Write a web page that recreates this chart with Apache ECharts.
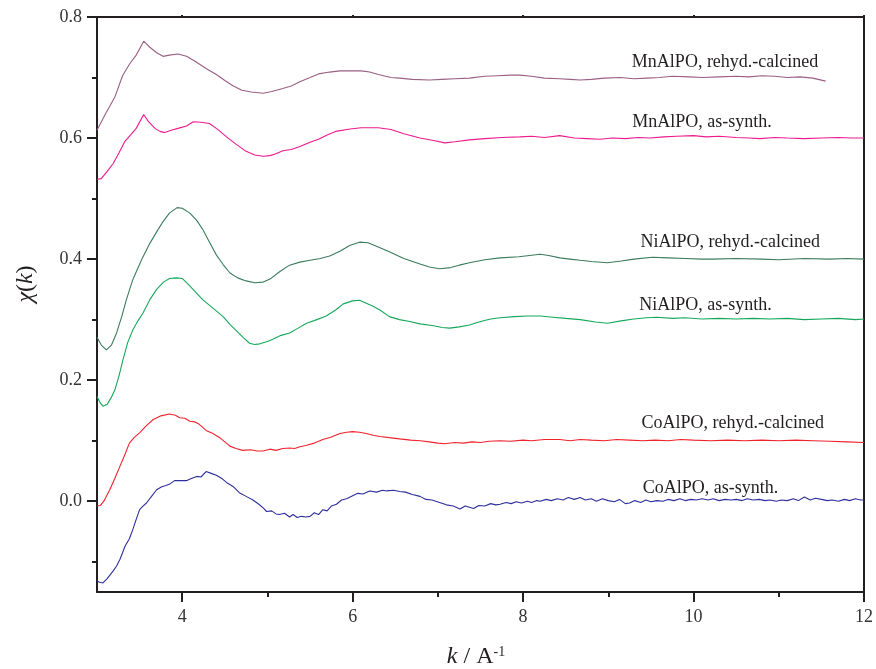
<!DOCTYPE html>
<html>
<head>
<meta charset="utf-8">
<script src="https://cdn.jsdelivr.net/npm/echarts@6/dist/echarts.min.js"></script>
<style>
html,body{margin:0;padding:0;background:#fff;}
#chart{width:876px;height:669px;}
</style>
</head>
<body>
<div id="chart"></div>
<script>
// ---- Data (k, chi(k)) ----
const xTickLabels = [4, 6, 8, 10, 12];
const xMinorTicks = [5, 7, 9, 11];
const yTickLabels = [0, 0.2, 0.4, 0.6, 0.8];
const yMinorTicks = [-0.1, 0.1, 0.3, 0.5, 0.7];

const seriesNames = [
  'MnAlPO, rehyd.-calcined',
  'MnAlPO, as-synth.',
  'NiAlPO, rehyd.-calcined',
  'NiAlPO, as-synth.',
  'CoAlPO, rehyd.-calcined',
  'CoAlPO, as-synth.'
];

// label anchor positions in data units [k, chi]
const labelAnchors = [
  [10.37, 0.725],
  [10.10, 0.626],
  [10.43, 0.428],
  [10.14, 0.324],
  [10.46, 0.128],
  [10.20, 0.022]
];

const mnRehyd = [[3.0,0.613],[3.1,0.64],[3.21,0.668],[3.3,0.703],[3.38,0.722],[3.46,0.737],[3.548,0.760],[3.62,0.75],[3.7,0.741],[3.775,0.735],[3.85,0.737],[3.95,0.739],[4.05,0.735],[4.15,0.727],[4.28,0.715],[4.4,0.705],[4.5,0.695],[4.6,0.686],[4.7,0.679],[4.81,0.676],[4.95,0.674],[5.05,0.677],[5.18,0.682],[5.28,0.686],[5.38,0.693],[5.5,0.700],[5.6,0.706],[5.73,0.709],[5.85,0.711],[6.0,0.711],[6.1,0.711],[6.2,0.709],[6.3,0.705],[6.45,0.700],[6.55,0.699],[6.7,0.697],[6.9,0.696],[7.05,0.697],[7.2,0.698],[7.37,0.699],[7.55,0.702],[7.7,0.703],[7.85,0.704],[7.96,0.704],[8.1,0.702],[8.25,0.699],[8.43,0.698],[8.55,0.697],[8.67,0.696],[8.8,0.697],[8.95,0.699],[9.14,0.700],[9.3,0.698],[9.45,0.699],[9.6,0.700],[9.75,0.702],[9.95,0.701],[10.1,0.700],[10.3,0.701],[10.5,0.702],[10.65,0.701],[10.8,0.703],[10.95,0.702],[11.1,0.700],[11.25,0.701],[11.4,0.699],[11.55,0.694]];

const mnAs = [[3.0,0.532],[3.05,0.533],[3.12,0.545],[3.19,0.558],[3.26,0.576],[3.325,0.594],[3.4,0.606],[3.46,0.616],[3.548,0.639],[3.6,0.628],[3.68,0.616],[3.74,0.611],[3.795,0.609],[3.87,0.613],[3.95,0.616],[4.05,0.62],[4.13,0.627],[4.22,0.626],[4.32,0.624],[4.42,0.614],[4.52,0.602],[4.63,0.59],[4.75,0.578],[4.85,0.572],[4.95,0.570],[5.03,0.571],[5.1,0.574],[5.18,0.579],[5.28,0.581],[5.38,0.586],[5.5,0.593],[5.6,0.598],[5.7,0.605],[5.8,0.611],[5.97,0.615],[6.1,0.617],[6.3,0.617],[6.45,0.614],[6.6,0.607],[6.79,0.600],[6.95,0.596],[7.08,0.592],[7.2,0.594],[7.37,0.597],[7.55,0.599],[7.75,0.601],[7.96,0.602],[8.1,0.603],[8.25,0.601],[8.43,0.604],[8.6,0.600],[8.75,0.599],[8.9,0.598],[9.05,0.600],[9.2,0.599],[9.35,0.601],[9.49,0.600],[9.65,0.602],[9.8,0.603],[10.0,0.604],[10.15,0.602],[10.3,0.603],[10.5,0.601],[10.65,0.600],[10.78,0.599],[10.95,0.601],[11.1,0.600],[11.3,0.599],[11.5,0.600],[11.7,0.601],[11.85,0.600],[12.0,0.600]];

const niRehyd = [[3.0,0.271],[3.05,0.258],[3.11,0.250],[3.17,0.258],[3.23,0.278],[3.29,0.305],[3.345,0.333],[3.42,0.366],[3.52,0.398],[3.62,0.426],[3.7,0.445],[3.775,0.462],[3.85,0.476],[3.94,0.485],[4.0,0.484],[4.09,0.476],[4.17,0.464],[4.245,0.448],[4.32,0.428],[4.40,0.407],[4.48,0.391],[4.56,0.377],[4.65,0.369],[4.75,0.364],[4.85,0.361],[4.95,0.362],[5.03,0.367],[5.15,0.380],[5.26,0.390],[5.38,0.395],[5.5,0.398],[5.62,0.401],[5.73,0.405],[5.85,0.413],[5.97,0.423],[6.08,0.428],[6.18,0.427],[6.3,0.420],[6.43,0.412],[6.6,0.401],[6.79,0.392],[6.9,0.387],[7.02,0.384],[7.15,0.386],[7.25,0.390],[7.37,0.394],[7.55,0.399],[7.73,0.402],[7.95,0.404],[8.2,0.408],[8.3,0.406],[8.43,0.402],[8.55,0.400],[8.67,0.398],[8.8,0.396],[8.99,0.394],[9.15,0.397],[9.3,0.400],[9.52,0.403],[9.7,0.402],[9.9,0.401],[10.1,0.400],[10.23,0.400],[10.5,0.401],[10.8,0.400],[11.0,0.399],[11.3,0.401],[11.6,0.400],[11.8,0.401],[12.0,0.400]];

const niAs = [[3.0,0.173],[3.04,0.162],[3.07,0.157],[3.12,0.160],[3.17,0.172],[3.21,0.184],[3.26,0.208],[3.305,0.234],[3.36,0.262],[3.42,0.283],[3.48,0.298],[3.54,0.311],[3.62,0.333],[3.7,0.35],[3.78,0.362],[3.85,0.368],[3.93,0.369],[4.0,0.368],[4.08,0.357],[4.16,0.345],[4.24,0.333],[4.36,0.319],[4.48,0.305],[4.56,0.292],[4.64,0.281],[4.72,0.27],[4.79,0.261],[4.85,0.259],[4.91,0.260],[5.0,0.264],[5.07,0.268],[5.16,0.274],[5.26,0.278],[5.36,0.286],[5.46,0.294],[5.58,0.300],[5.69,0.306],[5.8,0.316],[5.89,0.326],[6.0,0.331],[6.08,0.332],[6.16,0.327],[6.24,0.322],[6.32,0.316],[6.43,0.305],[6.55,0.300],[6.67,0.297],[6.79,0.293],[6.95,0.290],[7.05,0.287],[7.14,0.286],[7.25,0.288],[7.37,0.291],[7.5,0.297],[7.62,0.301],[7.73,0.303],[7.9,0.305],[8.05,0.306],[8.2,0.306],[8.35,0.304],[8.5,0.302],[8.67,0.300],[8.85,0.296],[8.99,0.294],[9.15,0.298],[9.3,0.301],[9.45,0.303],[9.57,0.304],[9.75,0.302],[9.9,0.303],[10.1,0.301],[10.3,0.302],[10.5,0.301],[10.7,0.302],[10.9,0.301],[11.1,0.302],[11.3,0.300],[11.5,0.301],[11.7,0.302],[11.9,0.300],[12.0,0.301]];

const coRehyd = [[3.0,-0.008],[3.04,-0.007],[3.08,0.0],[3.15,0.019],[3.21,0.038],[3.27,0.058],[3.33,0.078],[3.38,0.096],[3.44,0.106],[3.5,0.113],[3.58,0.125],[3.66,0.135],[3.75,0.141],[3.85,0.144],[3.92,0.142],[3.97,0.138],[4.03,0.137],[4.09,0.132],[4.15,0.131],[4.2,0.127],[4.28,0.117],[4.36,0.112],[4.44,0.105],[4.5,0.098],[4.56,0.091],[4.63,0.087],[4.71,0.084],[4.8,0.085],[4.88,0.083],[4.95,0.083],[5.03,0.086],[5.1,0.084],[5.18,0.087],[5.26,0.088],[5.32,0.087],[5.38,0.090],[5.45,0.092],[5.55,0.096],[5.65,0.102],[5.75,0.106],[5.85,0.112],[5.93,0.114],[6.0,0.115],[6.08,0.114],[6.16,0.112],[6.24,0.109],[6.32,0.107],[6.43,0.105],[6.55,0.103],[6.68,0.101],[6.79,0.100],[6.9,0.098],[7.0,0.096],[7.08,0.095],[7.2,0.097],[7.3,0.096],[7.4,0.098],[7.5,0.097],[7.6,0.099],[7.73,0.100],[7.85,0.099],[8.0,0.101],[8.1,0.100],[8.25,0.102],[8.43,0.102],[8.55,0.100],[8.67,0.102],[8.8,0.101],[8.95,0.100],[9.1,0.102],[9.25,0.101],[9.4,0.100],[9.55,0.101],[9.7,0.100],[9.85,0.102],[10.0,0.101],[10.2,0.100],[10.4,0.101],[10.6,0.100],[10.8,0.101],[11.0,0.100],[11.2,0.101],[11.4,0.100],[11.6,0.099],[11.8,0.098],[12.0,0.097]];

const coAs = [[3.0,-0.132],[3.03,-0.134],[3.07,-0.135],[3.12,-0.128],[3.19,-0.115],[3.23,-0.107],[3.27,-0.096],[3.33,-0.074],[3.38,-0.062],[3.42,-0.047],[3.46,-0.03],[3.5,-0.014],[3.54,-0.008],[3.58,-0.003],[3.64,0.008],[3.70,0.019],[3.76,0.024],[3.81,0.026],[3.86,0.029],[3.91,0.034],[3.98,0.034],[4.05,0.034],[4.1,0.037],[4.17,0.041],[4.22,0.040],[4.28,0.049],[4.34,0.046],[4.40,0.043],[4.47,0.037],[4.53,0.030],[4.6,0.024],[4.67,0.014],[4.75,0.008],[4.83,0.002],[4.9,-0.005],[4.95,-0.011],[4.99,-0.017],[5.05,-0.016],[5.1,-0.021],[5.14,-0.022],[5.2,-0.020],[5.26,-0.026],[5.3,-0.022],[5.35,-0.027],[5.4,-0.025],[5.45,-0.026],[5.5,-0.025],[5.55,-0.019],[5.6,-0.022],[5.65,-0.014],[5.7,-0.016],[5.75,-0.008],[5.81,-0.005],[5.87,0.002],[5.93,0.004],[6.0,0.009],[6.06,0.013],[6.12,0.012],[6.2,0.017],[6.28,0.015],[6.35,0.018],[6.4,0.017],[6.48,0.018],[6.55,0.016],[6.62,0.015],[6.7,0.011],[6.79,0.008],[6.86,0.003],[6.93,0.002],[7.02,-0.002],[7.1,-0.006],[7.18,-0.008],[7.26,-0.013],[7.32,-0.008],[7.37,-0.010],[7.42,-0.012],[7.48,-0.007],[7.55,-0.008],[7.62,-0.004],[7.68,-0.006],[7.73,-0.005],[7.8,-0.002],[7.86,-0.004],[7.92,-0.001],[7.98,-0.003],[8.05,0.000],[8.1,-0.002],[8.16,0.001],[8.2,0.000],[8.27,0.003],[8.33,0.001],[8.4,0.004],[8.47,0.002],[8.53,0.006],[8.6,0.003],[8.67,0.006],[8.73,0.002],[8.8,0.004],[8.86,0.000],[8.93,0.004],[9.0,0.001],[9.07,-0.001],[9.13,0.003],[9.2,-0.004],[9.25,-0.003],[9.31,0.001],[9.38,-0.002],[9.44,0.002],[9.5,-0.001],[9.57,0.001],[9.64,0.000],[9.7,0.003],[9.77,0.001],[9.84,0.004],[9.9,0.001],[9.97,0.003],[10.03,0.002],[10.1,0.004],[10.17,0.002],[10.23,0.004],[10.3,0.001],[10.37,0.003],[10.44,0.002],[10.5,0.003],[10.57,0.001],[10.63,0.004],[10.7,0.002],[10.77,0.003],[10.84,0.001],[10.9,0.002],[10.97,0.000],[11.03,0.002],[11.1,0.001],[11.17,0.004],[11.23,0.001],[11.3,0.007],[11.37,0.002],[11.43,0.005],[11.5,0.003],[11.57,0.001],[11.63,0.002],[11.7,0.000],[11.77,0.003],[11.83,0.001],[11.9,0.004],[11.96,0.002],[12.0,0.002]];

const seriesData = [mnRehyd, mnAs, niRehyd, niAs, coRehyd, coAs];
const seriesColors = ['#9a5f84', '#ec1a8e', '#3b7c5c', '#16a85a', '#f0222c', '#2e2e9c'];

// ---- Chart ----
const FONT = '"Liberation Serif", "Times New Roman", serif';
const AXIS_COLOR = '#231f20';
const chart = echarts.init(document.getElementById('chart'), null, {renderer: 'canvas'});

const series = seriesData.map((d, i) => ({
  name: seriesNames[i],
  type: 'line',
  xAxisIndex: 0,
  yAxisIndex: 0,
  data: d,
  showSymbol: false,
  symbol: 'none',
  smooth: false,
  lineStyle: {color: seriesColors[i], width: 1.1},
  itemStyle: {color: seriesColors[i]},
  markPoint: {
    silent: true,
    symbol: 'circle',
    symbolSize: 0,
    data: [{
      coord: labelAnchors[i],
      label: {
        show: true,
        position: 'inside',
        formatter: seriesNames[i],
        fontFamily: FONT,
        fontSize: 18,
        color: '#231f20'
      }
    }]
  }
}));

const option = {
  animation: false,
  backgroundColor: '#ffffff',
  grid: {left: 97, right: 12, top: 17, bottom: 77, containLabel: false},
  xAxis: [
    {
      type: 'value', min: 3, max: 12, position: 'bottom',
      axisLine: {show: true, onZero: false, lineStyle: {color: AXIS_COLOR, width: 2}},
      axisTick: {show: true, inside: false, length: 10, customValues: xTickLabels, lineStyle: {color: AXIS_COLOR, width: 2}},
      axisLabel: {show: true, customValues: xTickLabels, margin: 16, fontFamily: FONT, fontSize: 18, color: '#333'},
      splitLine: {show: false}
    },
    {
      type: 'value', min: 3, max: 12, position: 'bottom',
      axisLine: {show: false, onZero: false},
      axisTick: {show: true, inside: false, length: 5, customValues: xMinorTicks, lineStyle: {color: AXIS_COLOR, width: 2}},
      axisLabel: {show: false},
      splitLine: {show: false}
    },
    {
      type: 'value', min: 3, max: 12, position: 'top',
      axisLine: {show: true, onZero: false, lineStyle: {color: AXIS_COLOR, width: 2}},
      axisTick: {show: true, inside: false, length: 2, customValues: xTickLabels, lineStyle: {color: AXIS_COLOR, width: 2}},
      axisLabel: {show: false},
      splitLine: {show: false}
    }
  ],
  yAxis: [
    {
      type: 'value', min: -0.15, max: 0.8, position: 'left',
      axisLine: {show: true, onZero: false, lineStyle: {color: AXIS_COLOR, width: 2}},
      axisTick: {show: true, inside: false, length: 10, customValues: yTickLabels, lineStyle: {color: AXIS_COLOR, width: 2}},
      axisLabel: {show: true, customValues: yTickLabels, margin: 15, fontFamily: FONT, fontSize: 18, color: '#333',
        formatter: v => v.toFixed(1)},
      splitLine: {show: false}
    },
    {
      type: 'value', min: -0.15, max: 0.8, position: 'left',
      axisLine: {show: false, onZero: false},
      axisTick: {show: true, inside: false, length: 5, customValues: yMinorTicks, lineStyle: {color: AXIS_COLOR, width: 2}},
      axisLabel: {show: false},
      splitLine: {show: false}
    },
    {
      type: 'value', min: -0.15, max: 0.8, position: 'right',
      axisLine: {show: true, onZero: false, lineStyle: {color: AXIS_COLOR, width: 2}},
      axisTick: {show: false},
      axisLabel: {show: false},
      splitLine: {show: false}
    }
  ],
  series: series,
  graphic: [
    {
      type: 'text',
      x: 476, y: 657,
      style: {
        text: '{i|k} / A{s|-1}',
        textAlign: 'center',
        textVerticalAlign: 'middle',
        font: '24px ' + FONT,
        fill: '#231f20',
        rich: {
          i: {fontFamily: FONT, fontSize: 24, fontStyle: 'italic', fill: '#231f20', color: '#231f20'},
          s: {fontFamily: FONT, fontSize: 14, verticalAlign: 'top', fill: '#231f20', color: '#231f20'}
        }
      }
    },
    {
      type: 'text',
      x: 26, y: 284,
      rotation: Math.PI / 2,
      style: {
        text: '{i|χ}({i|k})',
        textAlign: 'center',
        textVerticalAlign: 'middle',
        font: '24px ' + FONT,
        fill: '#231f20',
        rich: {
          i: {fontFamily: FONT, fontSize: 24, fontStyle: 'italic', fill: '#231f20', color: '#231f20'}
        }
      }
    }
  ]
};

chart.setOption(option);
</script>
</body>
</html>
